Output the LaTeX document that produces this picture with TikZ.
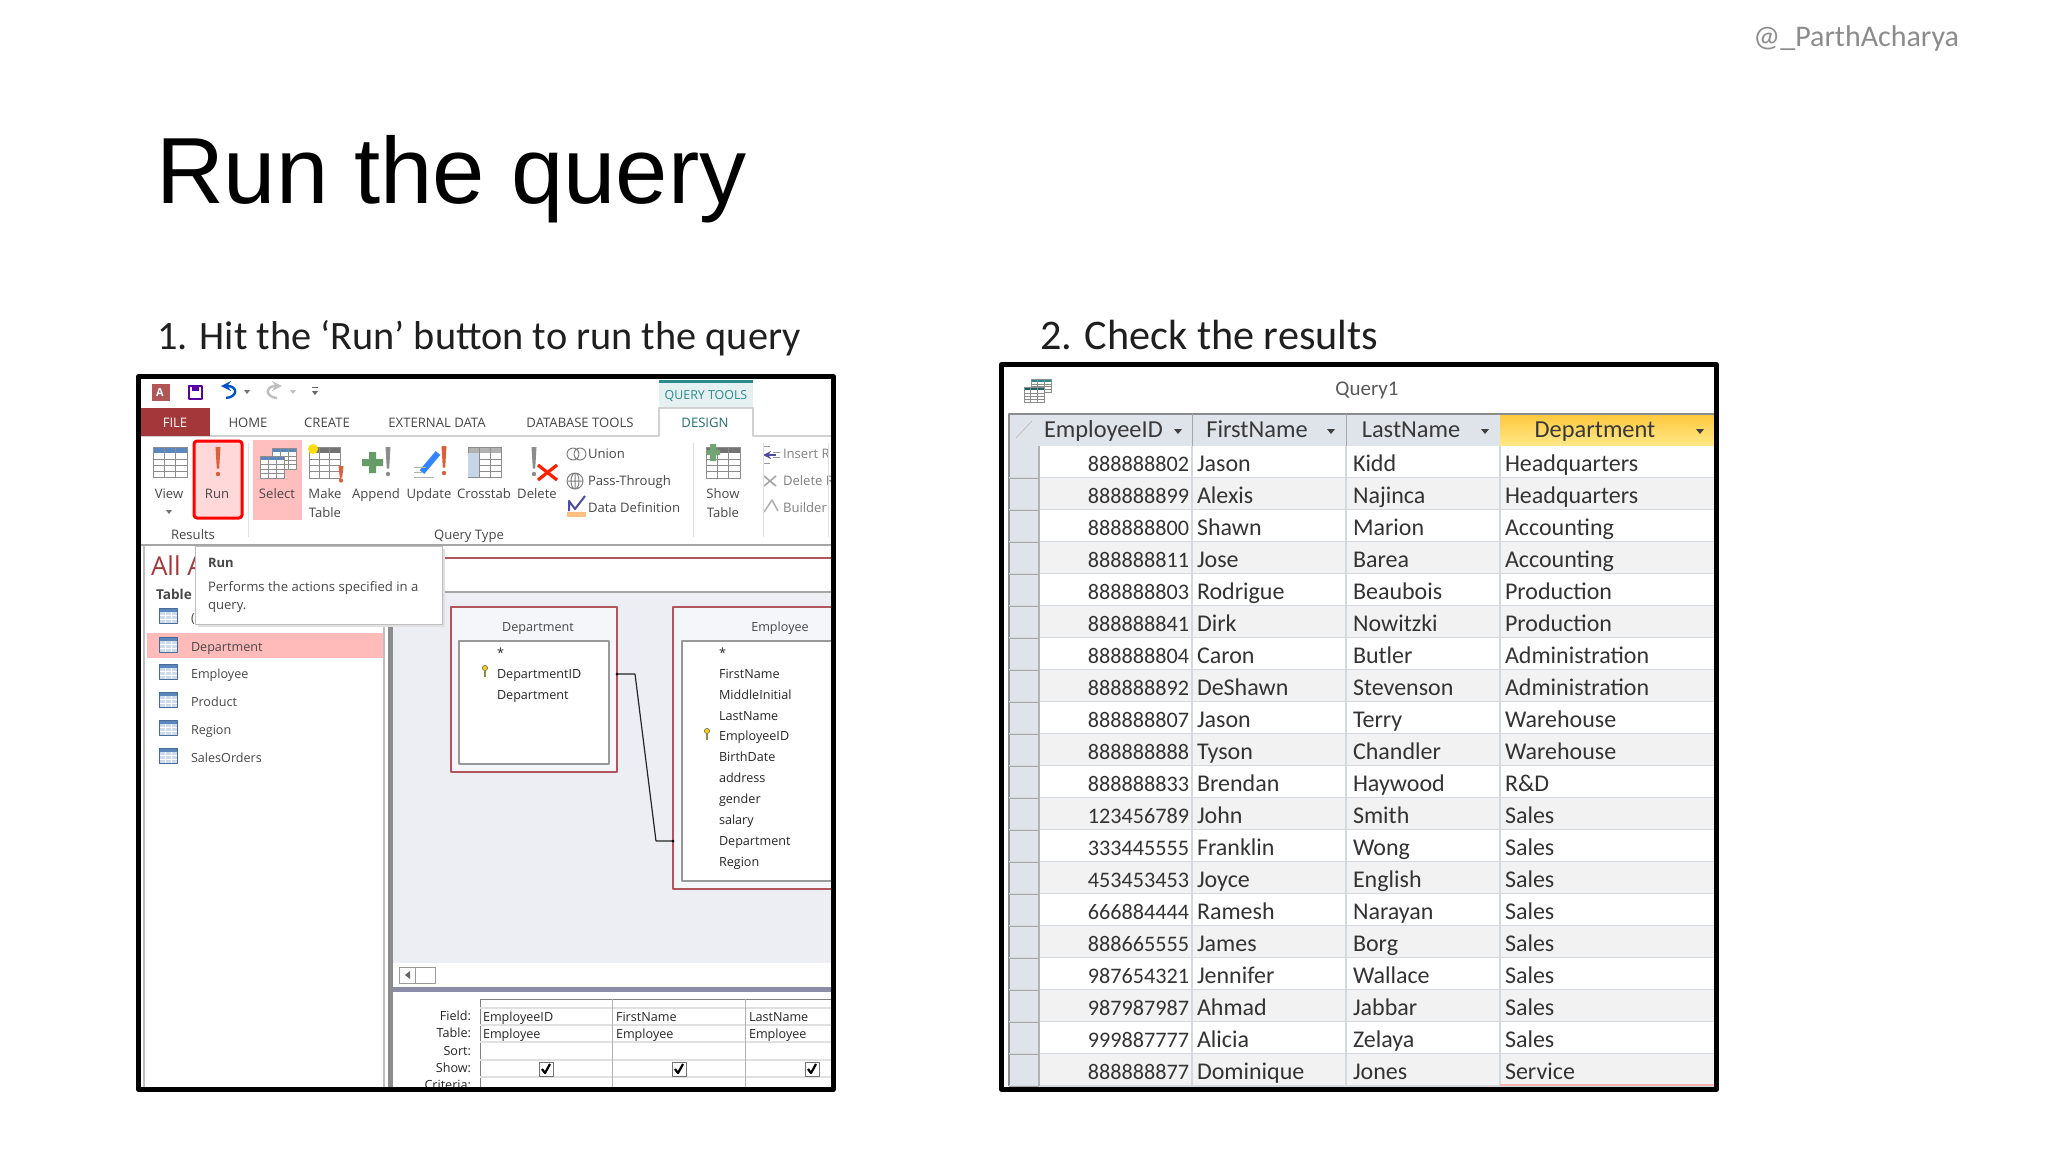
\documentclass[tikz,border=0pt]{standalone}
\usepackage{fontspec}
\setmainfont{Carlito}
\newfontfamily\winfont{Open Sans}
\newfontfamily\titlefont{Liberation Sans}
\definecolor{accessred}{HTML}{A4373A}
\definecolor{toolteal}{HTML}{2B8A8E}
\definecolor{paneblue}{HTML}{ECEEF3}
\definecolor{boxred}{HTML}{B0555C}
\definecolor{cellline}{HTML}{D4D8E0}
\definecolor{selgray}{HTML}{DFE3EA}
\definecolor{bangorange}{HTML}{D9623B}
\definecolor{gridblue}{HTML}{5B86BE}
\definecolor{headtop}{HTML}{FFC83C}
\definecolor{headbot}{HTML}{FFE98A}
\tikzset{
  every node/.style={inner sep=0pt, outer sep=0pt},
  frameline/.style={draw=black, line width=2.4pt},
  wintext/.style={font=\winfont\fontsize{6.55pt}{7pt}\selectfont, text=black!72, text height=.74em, text depth=.22em},
  listtext/.style={wintext, font=\winfont\fontsize{6.3pt}{7pt}\selectfont},
  boxtext/.style={listtext, text=black!85, anchor=west},
  cell/.style={font=\fontsize{12pt}{14pt}\selectfont, text=black!80, anchor=west, text height=.7em, text depth=.2em},
  numcell/.style={font=\fontsize{11.1pt}{14pt}\selectfont, text=black!80, anchor=east, text height=.7em, text depth=.2em},
  headcell/.style={font=\fontsize{12.2pt}{14pt}\selectfont, text=black!78, text height=.7em, text depth=.2em},
  heading/.style={text=black!88, anchor=base west},
  gridline/.style={draw=black!45, line width=.4pt},
}
% small grid picture used all over the ribbon
\newcommand{\gridicon}[6]{% x, y, width, height, header colour, columns
  \begin{scope}[shift={(#1,#2)}]
    \fill[white] (0,0) rectangle (#3,#4);
    \fill[#5] (0,0) rectangle (#3,#4*.2);
    \foreach \k in {1,...,#6} \draw[gridline] (#3*\k/#6,0) -- (#3*\k/#6,#4);
    \foreach \k in {2,3,4} \draw[gridline] (0,#4*.2*\k) -- (#3,#4*.2*\k);
    \draw[gridline] (0,0) rectangle (#3,#4);
  \end{scope}}
\newcommand{\bang}[4]{% x, y, height, colour
  \fill[#4] (#1-2.5,#2) -- (#1+2.5,#2) -- (#1+1.2,#2+#3*.72) -- (#1-1.2,#2+#3*.72) -- cycle;
  \fill[#4] (#1,#2+#3*.9) circle (2.2);}
\newcommand{\tablemark}[2]{%
  \begin{scope}[shift={(#1-9,#2-8)}]
    \fill[gridblue!30] (0,0) rectangle (18,15);
    \fill[gridblue] (0,0) rectangle (18,4);
    \draw[white, line width=.4pt] (6,4) -- (6,15) (12,4) -- (12,15) (0,7.5) -- (18,7.5) (0,11) -- (18,11);
    \draw[gridblue!80!black, line width=.4pt] (0,0) rectangle (18,15);
  \end{scope}}
\newcommand{\keymark}[2]{%
  \draw[draw=black!60, fill=yellow!70!orange, line width=.3pt] (#1,#2-4) circle (2.6);
  \fill[yellow!50!black] (#1-1,#2-2) rectangle (#1+1,#2+5);}
\begin{document}
\begin{tikzpicture}[x=.5pt, y=-.5pt, line join=round]
\useasboundingbox (0,0) rectangle (2048,1152);
\fill[white] (0,0) rectangle (2048,1152);
\node[font=\fontsize{15pt}{16pt}\selectfont, text=black!45, anchor=base east] (handle) at (1959,46) {@\_ParthAcharya};
\node[font=\titlefont\fontsize{47pt}{50pt}\selectfont, text=black, anchor=base west] (title) at (156,203) {Run the query};
\node[heading, font=\fontsize{20.15pt}{22pt}\selectfont] (stepone) at (157,349) {1. Hit the ‘Run’ button to run the query};
\node[heading, font=\fontsize{21.1pt}{22pt}\selectfont] (steptwo) at (1040,349) {2. Check the results};

% left window: the query designer
\begin{scope}
\clip (141,379) rectangle (831,1087);
% quick access bar
\fill[accessred!85] (152,384) rectangle (170,401);
\node[font=\winfont\bfseries\fontsize{5.5pt}{6pt}\selectfont, text=white] (logo) at (160,393) {A};
\draw[violet!70!blue, line width=1pt] (189,386) rectangle (202,399);
\fill[violet!70!blue] (192,386) rectangle (199,391);
\draw[blue!60!cyan!80!black, line width=1.2pt, -stealth] (226,398) .. controls (238,397) and (238,386) .. (221,386);
\draw[black!25, line width=1.2pt, -stealth] (277,398) .. controls (265,397) and (265,386) .. (282,386);
\fill[black!55] (244,390) -- (250,390) -- (247,394) -- cycle;
\fill[black!25] (290,390) -- (296,390) -- (293,394) -- cycle;
\fill[black!60] (312,391) -- (318,391) -- (315,395) -- cycle;
\fill[black!60] (312,387) rectangle (318,388);
% tabs
\fill[toolteal!12] (659,380) rectangle (753,408);
\fill[toolteal] (659,380) rectangle (753,383);
\node[wintext, text=toolteal, font=\winfont\fontsize{6.2pt}{7pt}\selectfont] (tooltab) at (706,394) {QUERY TOOLS};
\draw[black!18, line width=.6pt] (141,436) -- (659,436) -- (659,408) -- (753,408) -- (753,436) -- (831,436);
\fill[accessred] (141,408) rectangle (210,436);
\node[wintext, text=white] (filetab) at (175,422) {FILE};
\foreach \name/\lab/\tabx in {hometab/HOME/248, createtab/CREATE/327, externaltab/EXTERNAL DATA/437, databasetab/DATABASE TOOLS/580}{
  \node[wintext] (\name) at (\tabx,422) {\lab};
}
\node[wintext, text=toolteal!80!black] (designtab) at (705,422) {DESIGN};
% ribbon buttons
\draw[red, fill=red!15, line width=1.5pt, rounded corners=1.5pt] (194,441) rectangle (242,518);
\fill[red!25] (253,440) rectangle (302,520);
\gridicon{153}{447}{34}{30}{gridblue}{3}
\bang{218}{447}{30}{bangorange}
\gridicon{272}{448}{24}{21}{gridblue}{3}
\gridicon{260}{456}{24}{22}{gridblue}{3}
\gridicon{309}{447}{31}{31}{black!55}{3}
\fill[yellow!80!orange] (313,449) circle (5);
\bang{341}{466}{16}{bangorange}
\fill[green!35!black!60] (362,459) rectangle (383,466) (369,452) rectangle (376,473);
\bang{388}{447}{30}{black!45}
\draw[blue!60!cyan!80, line width=3pt] (422,472) -- (438,453);
\draw[black!30] (414,467) -- (426,467) (414,472) -- (422,472) (414,477) -- (434,477);
\bang{444}{446}{30}{bangorange}
\gridicon{468}{447}{33}{30}{black!30}{3}
\fill[gridblue!35] (468,453) rectangle (479,477);
\bang{534}{447}{30}{black!45}
\draw[red!75!orange, line width=1.6pt] (538,465) -- (557,480) (557,465) -- (538,480);
\draw[black!50, line width=.5pt] (573,454) circle (6) (580,454) circle (6);
\draw[black!50, line width=.5pt] (575,481) circle (8) (575,473) -- (575,489) (567,481) -- (583,481) (575,481) ellipse (4 and 8);
\draw[blue!50!black!70, line width=1pt] (569,511) -- (569,501) -- (575,509) -- (585,496);
\fill[orange!50] (567,512) rectangle (586,517);
\gridicon{706}{447}{34}{31}{black!55}{3}
\fill[green!35!black!55] (706,450) rectangle (720,455) (710,444) rectangle (716,461);
\draw[blue!50!black!70, line width=.8pt, -stealth] (776,455) -- (763,455);
\draw[black!40, line width=.5pt] (763,446) -- (770,446) (763,463) -- (770,463) (773,452) -- (780,452) (773,457) -- (780,457);
\draw[black!35, line width=.8pt] (764,476) -- (776,486) (776,476) -- (764,486);
\draw[black!30, line width=.8pt] (764,512) -- (772,500) -- (778,511);
\foreach \name/\lab/\labx/\laby in {view/View/169/493, run/Run/217/493, select/Select/277/493, make/Make/325/493, maketwo/Table/325/512, append/Append/376/493, update/Update/429/493, crosstab/Crosstab/484/493, delete/Delete/537/493, show/Show/723/493, showtwo/Table/723/512, results/Results/193/534, querytype/Query Type/469/534}{
  \node[wintext] (\name) at (\labx,\laby) {\lab};
}
\fill[black!55] (166,510) -- (172,510) -- (169,514) -- cycle;
\foreach \name/\lab/\laby in {union/Union/453, pass/Pass-Through/480, datadef/Data Definition/507}{
  \node[wintext, anchor=west] (\name) at (588,\laby) {\lab};
}
\foreach \name/\lab/\laby in {insert/Insert R/453, deleter/Delete R/480, builder/Builder/507}{
  \node[wintext, anchor=west, text=black!50] (\name) at (783,\laby) {\lab};
}
\draw[black!12, line width=.5pt] (248,443) -- (248,537) (693,443) -- (693,537) (763,443) -- (763,537) (828,443) -- (828,537);
\fill[black!35] (141,544) rectangle (831,546);
% list of tables
\draw[black!25, line width=.6pt] (144,546) -- (144,1087);
\fill[black!25] (383,546) rectangle (385,1087);
\fill[black!45] (388,546) rectangle (393,1087);
\node[font=\winfont\fontsize{13pt}{15pt}\selectfont, text=accessred, anchor=base west] (allaccess) at (151,575) {All A};
\node[wintext, font=\winfont\bfseries\fontsize{6.8pt}{8pt}\selectfont, anchor=west] (tablehead) at (156,594) {Table};
\tablemark{168}{616}
\node[listtext, anchor=west] (hiddenrow) at (191,617) {(};
\fill[red!27] (147,633) rectangle (383,658);
\foreach \name/\lab/\laby in {listdept/Department/646, listemp/Employee/673, listprod/Product/701, listreg/Region/729, listsales/SalesOrders/757}{
  \tablemark{168}{\laby-1}
  \node[listtext, anchor=west] (\name) at (191,\laby) {\lab};
}
% design pane
\draw[boxred, line width=.6pt] (442,558) -- (831,558);
\draw[black!35, line width=.6pt] (442,592) -- (831,592);
\fill[paneblue] (393,593) rectangle (831,963);
\draw[boxred, fill=paneblue!50, line width=.7pt] (451,607) rectangle (617,772);
\draw[black!40, fill=white, line width=.6pt] (459,641) rectangle (609,764);
\node[listtext] (depttitle) at (538,626) {Department};
\node[boxtext] (deptstar) at (497,652) {*};
\keymark{485}{672}
\node[boxtext] (deptid) at (497,673) {DepartmentID};
\node[boxtext] (deptname) at (497,694) {Department};
\draw[boxred, fill=paneblue!50, line width=.7pt] (673,607) rectangle (840,889);
\draw[black!40, fill=white, line width=.6pt] (682,641) rectangle (840,881);
\node[listtext] (emptitle) at (780,626) {Employee};
\node[boxtext] (empstar) at (719,652) {*};
\keymark{707}{735}
\foreach \name/\lab [count=\i from 0] in {fname/FirstName, mname/MiddleInitial, lname/LastName, empid/EmployeeID, bdate/BirthDate, addr/address, gend/gender, sal/salary, empdept/Department, region/Region}{
  \node[boxtext] (\name) at (719,673+20.9*\i) {\lab};
}
% relationship line
\coordinate (linkstart) at (617,674);
\coordinate (linkbend) at (635,674);
\coordinate (linkdown) at (656,841);
\coordinate (linkend) at (673,841);
\draw[black!85, line width=.6pt] (linkstart) -- (linkbend) -- (linkdown) -- (linkend);
\fill[black] (linkstart) circle (1.5) (linkend) circle (1.5);
% scroll bar and splitter
\fill[white] (393,963) rectangle (831,987);
\draw[black!40, fill=white, line width=.5pt] (399,967) rectangle (415,983);
\draw[black!40, fill=white, line width=.5pt] (415,967) rectangle (435,983);
\fill[black!60] (410,971) -- (410,979) -- (405,975) -- cycle;
\fill[blue!25!black!45] (393,987) rectangle (831,992);
% field grid
\draw[black!50, line width=.5pt] (480,1087) -- (480,999) -- (831,999);
\draw[black!12, line width=.6pt] (480,1008) -- (831,1008);
\foreach \rowy in {1025,1042,1060,1077} \draw[black!12, line width=.6pt] (480,\rowy) -- (831,\rowy);
\foreach \colx in {612,745} \draw[black!30, line width=.5pt] (\colx,999) -- (\colx,1087);
\foreach \name/\lab/\laby in {field/Field:/1015, table/Table:/1032, sort/Sort:/1050, showlab/Show:/1067, criteria/Criteria:/1084}{
  \node[listtext, anchor=east, text=black!85] (\name) at (471,\laby) {\lab};
}
\foreach \name/\lab/\colx in {fieldone/EmployeeID/483, fieldtwo/FirstName/616, fieldthree/LastName/749}{
  \node[boxtext] (\name) at (\colx,1016) {\lab};
}
\foreach \name/\colx in {tableone/483, tabletwo/616, tablethree/749}{
  \node[boxtext] (\name) at (\colx,1033) {Employee};
}
\foreach \colx in {546,679,812}{
  \draw[black!55, fill=white, line width=.5pt] (\colx-7,1062) rectangle (\colx+7,1076);
  \draw[black, line width=1.1pt] (\colx-4,1069) -- (\colx-1,1073) -- (\colx+4,1064);
}
% tooltip
\fill[black!12] (198,549) rectangle (445,627);
\draw[black!25, fill=white, line width=.5pt] (195,546) rectangle (442,624);
\node[wintext, font=\winfont\bfseries\fontsize{6.5pt}{7pt}\selectfont, anchor=west] (tiptitle) at (208,562) {Run};
\node[wintext, anchor=west] (tipone) at (208,586) {Performs the actions specified in a};
\node[wintext, anchor=west] (tiptwo) at (208,604) {query.};
\end{scope}
\draw[frameline] (138.5,376.5) rectangle (833.5,1089.5);

% right window: the result table
\node[font=\fontsize{10.5pt}{12pt}\selectfont, text=black!65, text height=.7em, text depth=.2em] (querytitle) at (1367,390) {Query1};
\gridicon{1031}{379}{20}{13}{toolteal}{3}
\gridicon{1024}{387}{20}{15}{toolteal!70!black}{3}
\fill[selgray] (1009,414) rectangle (1500,446);
\fill[selgray] (1009,446) rectangle (1039,1086);
\shade[top color=headtop, bottom color=headbot] (1500,414) rectangle (1714,446);
\draw[black!45, line width=.6pt] (1009,1086) -- (1009,414) -- (1714,414);
\foreach \colx in {1192,1346} \draw[black!35, line width=.5pt] (\colx,414) -- (\colx,446);
\foreach \i in {1,...,20}{
  \pgfmathsetmacro{\rowtop}{446+32*(\i-1)}
  \pgfmathsetmacro{\rowbot}{\rowtop+32}
  \pgfmathparse{int(mod(\i,2))}
  \ifnum\pgfmathresult=0
    \fill[black!5] (1039,\rowtop) rectangle (1714,\rowbot);
  \else
    \fill[white] (1039,\rowtop) rectangle (1714,\rowbot);
  \fi
  \draw[cellline, line width=.7pt] (1009,\rowbot) -- (1714,\rowbot);
  \draw[black!35, line width=.5pt] (1009,\rowbot) -- (1039,\rowbot);
}
\foreach \colx in {1039,1192,1346,1500} \draw[cellline, line width=.6pt] (\colx,446) -- (\colx,1086);
\draw[black!30, line width=.6pt] (1039,446) -- (1039,1086);
\draw[red!30, line width=.6pt] (1500,1085) -- (1714,1085);
\draw[black!25, line width=.4pt] (1016,438) -- (1032,421);
\node[headcell, anchor=west] (headid) at (1044,432) {EmployeeID};
\node[headcell] (headfirst) at (1257,432) {FirstName};
\node[headcell] (headlast) at (1411,432) {LastName};
\node[headcell] (headdept) at (1595,432) {Department};
\foreach \arrowx in {1178,1331,1485,1700}{
  \fill[black!75] (\arrowx-4,429) -- (\arrowx+4,429) -- (\arrowx,434) -- cycle;
}
\foreach \idnum/\first/\last/\dept [count=\i from 0] in {
  888888802/Jason/Kidd/Headquarters, 888888899/Alexis/Najinca/Headquarters,
  888888800/Shawn/Marion/Accounting, 888888811/Jose/Barea/Accounting,
  888888803/Rodrigue/Beaubois/Production, 888888841/Dirk/Nowitzki/Production,
  888888804/Caron/Butler/Administration, 888888892/DeShawn/Stevenson/Administration,
  888888807/Jason/Terry/Warehouse, 888888888/Tyson/Chandler/Warehouse,
  888888833/Brendan/Haywood/R\&D, 123456789/John/Smith/Sales,
  333445555/Franklin/Wong/Sales, 453453453/Joyce/English/Sales,
  666884444/Ramesh/Narayan/Sales, 888665555/James/Borg/Sales,
  987654321/Jennifer/Wallace/Sales, 987987987/Ahmad/Jabbar/Sales,
  999887777/Alicia/Zelaya/Sales, 888888877/Dominique/Jones/Service}{
  \node[numcell] (id\i) at (1189,466+32*\i) {\idnum};
  \node[cell] (first\i) at (1197,466+32*\i) {\first};
  \node[cell] (last\i) at (1353,466+32*\i) {\last};
  \node[cell] (dept\i) at (1505,466+32*\i) {\dept};
}
\draw[frameline] (1001.5,364.5) rectangle (1716.5,1089.5);
\end{tikzpicture}
\end{document}
